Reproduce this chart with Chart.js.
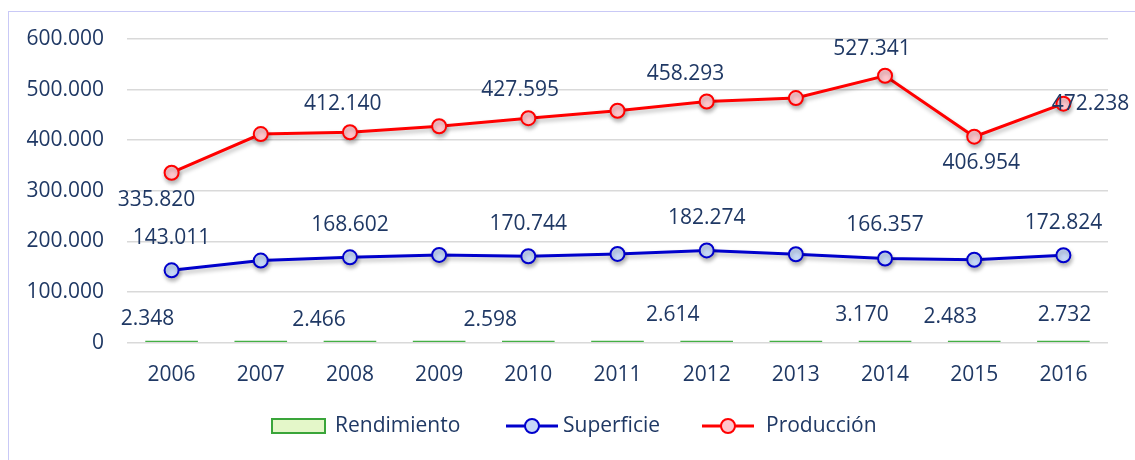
<!DOCTYPE html>
<html>
<head>
<meta charset="utf-8">
<script src="https://cdn.jsdelivr.net/npm/chart.js@4"></script>
<style>
  html, body { margin: 0; padding: 0; background: #fff; }
  #wrap { position: relative; width: 1135px; height: 460px; overflow: hidden; }
  #frame { position: absolute; left: 8px; top: 11px; width: 1140px; height: 470px; border: 1px solid #c9c9f6; box-sizing: border-box; pointer-events: none; }
  canvas { position: absolute; left: 0; top: 0; }
</style>
</head>
<body>
<div id="wrap">
  <canvas id="c" width="1135" height="460"></canvas>
  <div id="frame"></div>
</div>
<script>
// ---- data ----
const categories = ['2006','2007','2008','2009','2010','2011','2012','2013','2014','2015','2016'];
const rendimiento = [2348, 2541, 2466, 2466, 2598, 2613, 2614, 2765, 3170, 2483, 2732];
const superficie  = [143011, 162200, 168602, 173400, 170744, 175400, 182274, 174800, 166357, 163896, 172824];
const produccion  = [335820, 412140, 415770, 427595, 443590, 458293, 476460, 483300, 527341, 406954, 472238];
const seriesNames = ['Rendimiento', 'Superficie', 'Producción'];
const yMax = 600000, yStep = 100000;

// which points carry a value label (layout only)
const labelLayout = [
  [ {i:0,dx:-24,dy:-22}, {i:2,dx:-31,dy:-21}, {i:4,dx:-38,dy:-21}, {i:6,dx:-34,dy:-26}, {i:8,dx:-23,dy:-26}, {i:9,dx:-24,dy:-24}, {i:10,dx:1,dy:-26} ],
  [ {i:0,dx:0,dy:-32}, {i:2,dx:0,dy:-32}, {i:4,dx:0,dy:-32}, {i:6,dx:0,dy:-32}, {i:8,dx:0,dy:-33}, {i:10,dx:0,dy:-32} ],
  [ {i:0,dx:-15,dy:27}, {i:1,dx:82,dy:-30}, {i:3,dx:81,dy:-36}, {i:5,dx:68,dy:-37}, {i:8,dx:-13,dy:-27}, {i:9,dx:7,dy:26}, {i:10,dx:27,dy:0} ]
];

function fmt(n) {
  return String(Math.round(n)).replace(/\B(?=(\d{3})+(?!\d))/g, '.');
}

const FONT = '"Open Sans", "Noto Sans", sans-serif';
const TEXT = '#1f3864';
const BAR_LEGEND_FILL = '#e4f7c9';
const BAR_GREEN = '#3aa53a';

const shadowPlugin = {
  id: 'shadow',
  beforeDatasetDraw(chart, args) {
    if (chart.data.datasets[args.index].type !== 'line') return;
    const ctx = chart.ctx;
    ctx.save();
    ctx.shadowColor = 'rgba(0,0,0,0.28)';
    ctx.shadowBlur = 4;
    ctx.shadowOffsetX = 1;
    ctx.shadowOffsetY = 3;
  },
  afterDatasetDraw(chart, args) {
    if (chart.data.datasets[args.index].type !== 'line') return;
    chart.ctx.restore();
  }
};

const labelPlugin = {
  id: 'valueLabels',
  afterDatasetsDraw(chart) {
    const ctx = chart.ctx;
    const x = chart.scales.x, y = chart.scales.y;
    ctx.save();
    ctx.font = '21px ' + FONT;
    ctx.fillStyle = TEXT;
    ctx.textAlign = 'center';
    ctx.textBaseline = 'middle';
    chart.data.datasets.forEach((ds, d) => {
      labelLayout[d].forEach(l => {
        const v = ds.data[l.i];
        const px = x.getPixelForValue(l.i) + l.dx;
        const py = y.getPixelForValue(v) + l.dy;
        ctx.fillText(fmt(v), px, py);
      });
    });
    ctx.restore();
  }
};

const legendPlugin = {
  id: 'customLegend',
  afterDraw(chart) {
    const ctx = chart.ctx;
    const ds = chart.data.datasets;
    const cy = 426;
    ctx.save();
    ctx.font = '21px ' + FONT;
    ctx.textBaseline = 'middle';
    ctx.textAlign = 'left';
    // bar item
    ctx.fillStyle = BAR_LEGEND_FILL;
    ctx.fillRect(272, cy - 7, 53, 14);
    ctx.strokeStyle = BAR_GREEN;
    ctx.lineWidth = 2;
    ctx.strokeRect(272, cy - 7, 53, 14);
    ctx.fillStyle = TEXT;
    ctx.fillText(ds[0].label, 335, cy);
    // line items
    const items = [[1, 506, 563], [2, 702, 766]];
    items.forEach(([k, x0, tx]) => {
      ctx.strokeStyle = ds[k].borderColor;
      ctx.lineWidth = 3;
      ctx.beginPath(); ctx.moveTo(x0, cy); ctx.lineTo(x0 + 52, cy); ctx.stroke();
      ctx.beginPath(); ctx.arc(x0 + 26, cy, 7, 0, Math.PI * 2);
      ctx.fillStyle = ds[k].pointBackgroundColor; ctx.fill();
      ctx.lineWidth = 2; ctx.strokeStyle = ds[k].pointBorderColor; ctx.stroke();
      ctx.fillStyle = TEXT;
      ctx.fillText(ds[k].label, tx, cy);
    });
    ctx.restore();
  }
};

new Chart(document.getElementById('c'), {
  data: {
    labels: categories,
    datasets: [
      {
        type: 'bar', label: seriesNames[0], data: rendimiento,
        backgroundColor: '#45b045', borderWidth: 0, minBarLength: 2,
        categoryPercentage: 1, barPercentage: 0.59, order: 3
      },
      {
        type: 'line', label: seriesNames[1], data: superficie,
        borderColor: '#0000cc', borderWidth: 3,
        pointBackgroundColor: '#c6d8f7', pointBorderColor: '#0000cc',
        pointBorderWidth: 2, pointRadius: 7, tension: 0, order: 2
      },
      {
        type: 'line', label: seriesNames[2], data: produccion,
        borderColor: '#ff0000', borderWidth: 3,
        pointBackgroundColor: '#ffc6cc', pointBorderColor: '#ff0000',
        pointBorderWidth: 2, pointRadius: 7, tension: 0, order: 1
      }
    ]
  },
  options: {
    responsive: false,
    animation: false,
    devicePixelRatio: 1,
    layout: { padding: { top: 39, left: 0, right: 27, bottom: 77 } },
    plugins: { legend: { display: false }, tooltip: { enabled: false } },
    scales: {
      x: {
        grid: { display: false, drawTicks: false },
        border: { display: false },
        ticks: { color: TEXT, font: { family: FONT, size: 21 }, padding: 20, maxRotation: 0 },
        afterFit(s) { s.height = 40.3; }
      },
      y: {
        min: 0, max: yMax,
        grid: { color: '#d9d9d9', lineWidth: 1.5, drawTicks: false },
        border: { display: false },
        ticks: { stepSize: yStep, color: TEXT, font: { family: FONT, size: 21 }, padding: 23,
                 callback: v => fmt(v) },
        afterFit(s) { s.width = 127; }
      }
    }
  },
  plugins: [shadowPlugin, labelPlugin, legendPlugin]
});
</script>
</body>
</html>
